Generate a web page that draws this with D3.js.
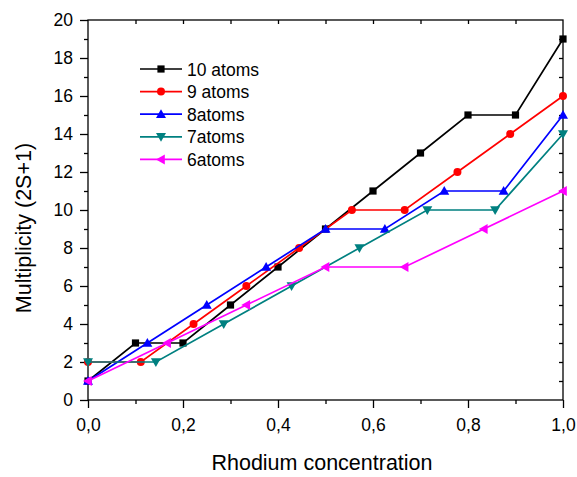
<!DOCTYPE html>
<html>
<head>
<meta charset="utf-8">
<script src="https://cdn.jsdelivr.net/npm/d3@7"></script>
<style>
  body { margin: 0; background: #fff; }
  svg { display: block; font-family: Arial, "Liberation Sans", sans-serif; }
</style>
</head>
<body>
<svg id="chart" width="577" height="477"></svg>
<script>
// data
var seriesNames = ["10 atoms", "9 atoms", "8atoms", "7atoms", "6atoms"];
var seriesColors = ["#000000", "#ff0000", "#0000ff", "#008080", "#ff00ff"];
var seriesSymbols = ["square", "circle", "triUp", "triDown", "triLeft"];

var x10 = [0, 0.1, 0.2, 0.3, 0.4, 0.5, 0.6, 0.7, 0.8, 0.9, 1.0];
var y10 = [1, 3, 3, 5, 7, 9, 11, 13, 15, 15, 19];
var x9 = [0, 1/9, 2/9, 3/9, 4/9, 5/9, 6/9, 7/9, 8/9, 1];
var y9 = [2, 2, 4, 6, 8, 10, 10, 12, 14, 16];
var x8 = [0, 0.125, 0.25, 0.375, 0.5, 0.625, 0.75, 0.875, 1];
var y8 = [1, 3, 5, 7, 9, 9, 11, 11, 15];
var x7 = [0, 1/7, 2/7, 3/7, 4/7, 5/7, 6/7, 1];
var y7 = [2, 2, 4, 6, 8, 10, 10, 14];
var x6 = [0, 1/6, 2/6, 3/6, 4/6, 5/6, 1];
var y6 = [1, 3, 5, 7, 7, 9, 11];

var xMajor = [0, 0.2, 0.4, 0.6, 0.8, 1.0];
var xMinor = [0.1, 0.3, 0.5, 0.7, 0.9];
var yMajor = [0, 2, 4, 6, 8, 10, 12, 14, 16, 18, 20];
var yMinor = [1, 3, 5, 7, 9, 11, 13, 15, 17, 19];

var xs = [x10, x9, x8, x7, x6];
var ys = [y10, y9, y8, y7, y6];

var margin = { left: 88, top: 20, right: 14, bottom: 77 };
var W = 577, H = 477;
var svg = d3.select("#chart");

var x = d3.scaleLinear().domain([0, 1]).range([margin.left, W - margin.right]);
var y = d3.scaleLinear().domain([0, 20]).range([H - margin.bottom, margin.top]);

var fmt = function (d) { return d3.format(".1f")(d).replace(".", ","); };

// bottom axis: major + minor ticks outward
svg.append("g").attr("transform", "translate(0," + y(0) + ")")
    .call(d3.axisBottom(x).tickValues(xMinor).tickSize(4).tickFormat(""));
var gx = svg.append("g").attr("transform", "translate(0," + y(0) + ")")
    .call(d3.axisBottom(x).tickValues(xMajor).tickSize(8).tickPadding(11).tickFormat(fmt));
gx.selectAll("text").style("font-size", "17.5px").attr("fill", "#000");

// left axis
svg.append("g").attr("transform", "translate(" + x(0) + ",0)")
    .call(d3.axisLeft(y).tickValues(yMinor).tickSize(4).tickFormat(""));
var gy = svg.append("g").attr("transform", "translate(" + x(0) + ",0)")
    .call(d3.axisLeft(y).tickValues(yMajor).tickSize(8).tickPadding(7));
gy.selectAll("text").style("font-size", "17.5px").attr("fill", "#000");

// top and right: inward ticks, no labels
svg.append("g").attr("transform", "translate(0," + y(20) + ")")
    .call(d3.axisTop(x).tickValues(xMajor.concat(xMinor).filter(function (d) { return d > 0 && d < 1; })).tickSize(-4).tickFormat(""));
svg.append("g").attr("transform", "translate(" + x(1) + ",0)")
    .call(d3.axisRight(y).tickValues(yMajor.concat(yMinor).filter(function (d) { return d > 0 && d < 20; })).tickSize(-4).tickFormat(""));

svg.selectAll(".tick line").attr("stroke", "#000").attr("stroke-width", 1.3);
svg.selectAll(".domain").remove();
svg.append("rect")
    .attr("x", x(0)).attr("y", y(20))
    .attr("width", x(1) - x(0)).attr("height", y(0) - y(20))
    .attr("fill", "none").attr("stroke", "#000").attr("stroke-width", 1.3);

// axis titles
svg.append("text")
    .attr("x", 322).attr("y", 470)
    .attr("text-anchor", "middle").style("font-size", "21.5px")
    .text("Rhodium concentration");
svg.append("text")
    .attr("transform", "translate(31,228) rotate(-90)")
    .attr("text-anchor", "middle").style("font-size", "21.5px")
    .text("Multiplicity (2S+1)");

// marker shapes
function symbolPath(kind) {
    if (kind === "square") return "M-3.6,-3.6H3.6V3.6H-3.6Z";
    if (kind === "circle") return d3.symbol().type(d3.symbolCircle).size(50)();
    if (kind === "triUp") return "M0,-5L5,3.8L-5,3.8Z";
    if (kind === "triDown") return "M0,5L5,-3.8L-5,-3.8Z";
    return "M-5,0L3.8,-5L3.8,5Z";
}

var line = d3.line().x(function (d) { return x(d[0]); }).y(function (d) { return y(d[1]); });

seriesNames.forEach(function (name, i) {
    var pts = xs[i].map(function (v, j) { return [v, ys[i][j]]; });
    var g = svg.append("g");
    g.append("path").datum(pts).attr("d", line)
        .attr("fill", "none").attr("stroke", seriesColors[i]).attr("stroke-width", 1.7);
    g.selectAll("path.m").data(pts).enter().append("path")
        .attr("class", "m")
        .attr("transform", function (d) { return "translate(" + x(d[0]) + "," + y(d[1]) + ")"; })
        .attr("d", symbolPath(seriesSymbols[i]))
        .attr("fill", seriesColors[i]);
});

// legend
var legend = svg.append("g");
seriesNames.forEach(function (name, i) {
    var ly = 69 + i * 22.6;
    legend.append("line").attr("x1", 140).attr("x2", 182).attr("y1", ly).attr("y2", ly)
        .attr("stroke", seriesColors[i]).attr("stroke-width", 1.7);
    legend.append("path").attr("transform", "translate(161," + ly + ")")
        .attr("d", symbolPath(seriesSymbols[i])).attr("fill", seriesColors[i]);
    legend.append("text").attr("x", 187).attr("y", ly + 6.5)
        .style("font-size", "17.5px").text(name);
});
</script>
</body>
</html>
